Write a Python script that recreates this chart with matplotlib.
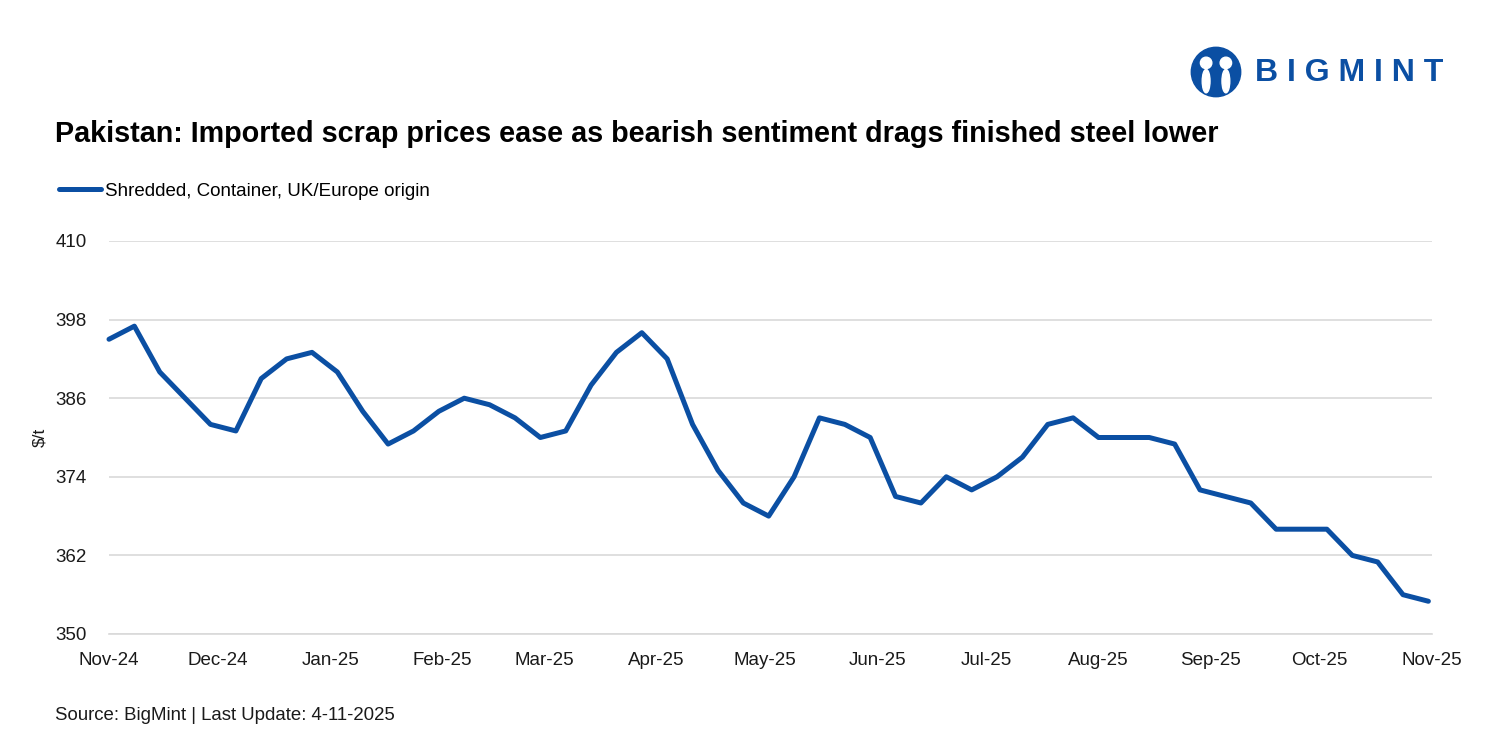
import pandas as pd
import numpy as np
import matplotlib.pyplot as plt
import matplotlib.dates as mdates
from matplotlib.patches import Circle, Ellipse

plt.rcParams['font.family'] = ['Liberation Sans', 'DejaVu Sans']

# weekly prices, $/t
start_date = '2024-11-01'
prices = [395, 397, 390, 386, 382, 381, 389, 392, 393, 390,
          384, 379, 381, 384, 386, 385, 383, 380, 381, 388,
          393, 396, 392, 382, 375, 370, 368, 374, 383, 382,
          380, 371, 370, 374, 372, 374, 377, 382, 383, 380,
          380, 380, 379, 372, 371, 370, 366, 366, 366, 362,
          361, 356, 355]
series_name = 'Shredded, Container, UK/Europe origin'
y_ticks = [350, 362, 374, 386, 398, 410]

dates = pd.date_range(start_date, periods=len(prices), freq='7D')
df = pd.DataFrame({'price': prices}, index=dates)

blue = '#0B4FA3'
fig = plt.figure(figsize=(15, 7.5), dpi=100)
ax = fig.add_axes([109/1500, 1 - 634/750, (1432-109)/1500, (634-241)/750])

ax.plot(df.index, df['price'], color=blue, lw=3.6, solid_capstyle='round',
        solid_joinstyle='round', label=series_name, clip_on=False)

ax.set_ylim(350, 410)
ax.set_yticks(y_ticks)
ax.set_xlim(pd.Timestamp('2024-11-01'), pd.Timestamp('2025-11-01'))
ax.xaxis.set_major_locator(mdates.MonthLocator())
ax.xaxis.set_major_formatter(mdates.DateFormatter('%b-%y'))

ax.grid(axis='y', color='#d9d9d9', lw=1.2)
ax.set_axisbelow(True)
for s in ['top', 'right', 'left']:
    ax.spines[s].set_visible(False)
ax.spines['bottom'].set_color('#d9d9d9')
ax.spines['bottom'].set_linewidth(1.2)
ax.tick_params(axis='both', length=0, labelsize=13.5, colors='#1a1a1a')
ax.tick_params(axis='x', pad=13)
ax.tick_params(axis='y', pad=16)
ax.set_ylabel('$/t', fontsize=12.5, color='#1a1a1a', labelpad=6)

# title, legend, source
fig.text(55/1500, 1 - 134/750, 'Pakistan: Imported scrap prices ease as bearish sentiment drags finished steel lower',
         fontsize=20.7, fontweight='bold', va='center', ha='left', color='#000000')
fig.legend(loc='center left', bbox_to_anchor=(42/1500, 1 - 191/750), frameon=False,
           fontsize=13.5, handlelength=2.25, handletextpad=0.2)
fig.text(55/1500, 1 - 716/750, 'Source: BigMint | Last Update: 4-11-2025',
         fontsize=13.4, va='center', ha='left', color='#1a1a1a')

# logo
fig.text(1255/1500, 1 - 73/750, 'B I G M I N T', fontsize=23, fontweight='bold',
         color=blue, va='center', ha='left')
lax = fig.add_axes([1190/1500, 1 - 98/750, 52/1500, 52/750])
lax.set_xlim(-1, 1)
lax.set_ylim(-1, 1)
lax.set_aspect('equal')
lax.axis('off')
lax.add_patch(Circle((0, 0), 0.95, color=blue))
lax.add_patch(Circle((-0.38, 0.35), 0.22, color='white'))
lax.add_patch(Circle((0.38, 0.35), 0.22, color='white'))
lax.add_patch(Ellipse((-0.38, -0.35), 0.3, 0.9, color='white'))
lax.add_patch(Ellipse((0.38, -0.35), 0.3, 0.9, color='white'))

fig.savefig('out.png', dpi=100)
